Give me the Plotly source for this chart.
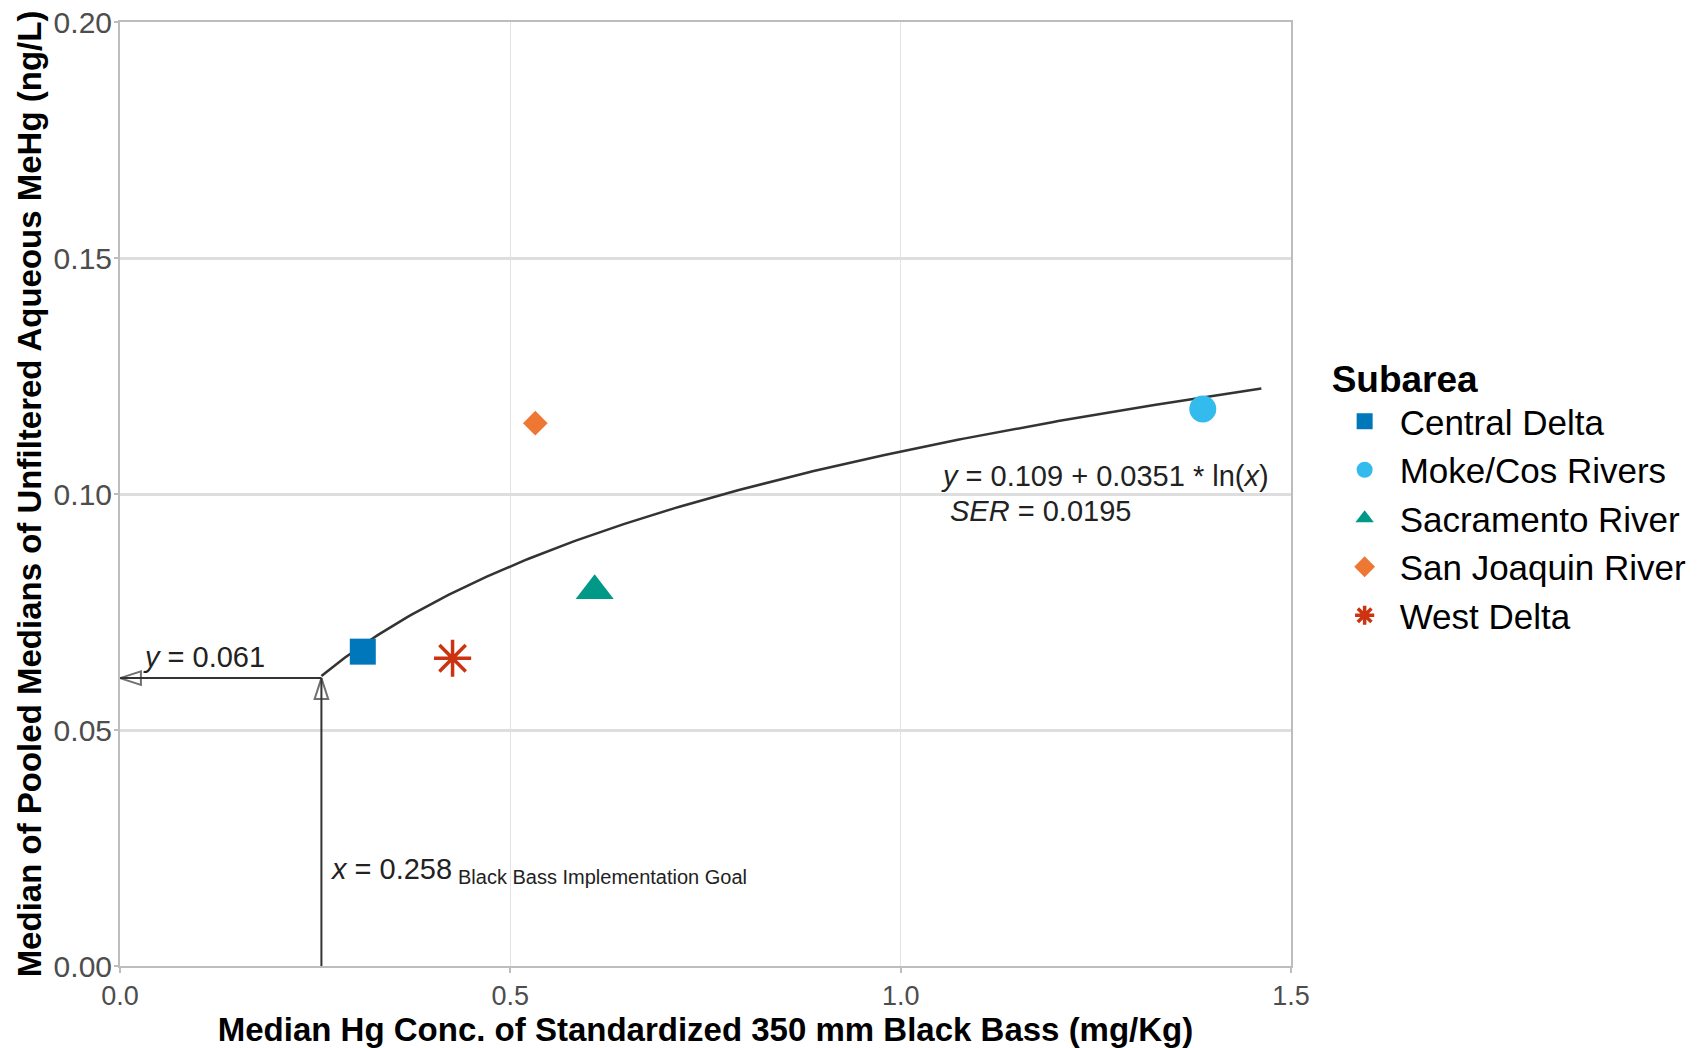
import plotly.graph_objects as go
import numpy as np

# ---- data ----
subareas = ["Central Delta", "Moke/Cos Rivers", "Sacramento River", "San Joaquin River", "West Delta"]
fish_hg = [0.311, 1.387, 0.608, 0.532, 0.426]          # mg/Kg
aqueous_mehg = [0.0666, 0.118, 0.0795, 0.115, 0.0652]  # ng/L
colors = ["#0077BB", "#33BBEE", "#009988", "#EE7733", "#CC3311"]
symbols = ["square", "circle", "triangle-up", "diamond", "asterisk-open"]
sizes = [26, 27, 33, 19, 31]

fit_intercept = 0.109
fit_slope = 0.0351
fit_x_range = [0.258, 1.462]
goal_x = 0.258
goal_y = 0.061

x_ticks = [0.0, 0.5, 1.0, 1.5]
x_ticktext = ["0.0", "0.5", "1.0", "1.5"]
y_ticks = [0.00, 0.05, 0.10, 0.15, 0.20]
y_ticktext = ["0.00", "0.05", "0.10", "0.15", "0.20"]

fig = go.Figure()

# regression curve from the printed equation
xc = np.linspace(fit_x_range[0], fit_x_range[1], 200)
yc = fit_intercept + fit_slope * np.log(xc)
fig.add_trace(go.Scatter(x=xc, y=yc, mode="lines", line=dict(color="#333333", width=2.5),
                         showlegend=False, hoverinfo="skip"))

# goal arrows: horizontal to the y axis, vertical up to the curve
arrow_marker = dict(symbol="arrow-open", size=[0, 22], angleref="previous",
                    color="#333333", line=dict(color="#333333", width=2))
fig.add_trace(go.Scatter(x=[goal_x, 0], y=[goal_y, goal_y], mode="lines+markers",
                         line=dict(color="#333333", width=2), marker=arrow_marker,
                         showlegend=False, hoverinfo="skip", cliponaxis=False))
fig.add_trace(go.Scatter(x=[goal_x, goal_x], y=[0, goal_y], mode="lines+markers",
                         line=dict(color="#333333", width=2), marker=arrow_marker,
                         showlegend=False, hoverinfo="skip", cliponaxis=False))

for name, xv, yv, c, s, sz in zip(subareas, fish_hg, aqueous_mehg, colors, symbols, sizes):
    marker = dict(color=c, symbol=s, size=sz)
    if s == "asterisk-open":
        marker["line"] = dict(color=c, width=3.5)
    fig.add_trace(go.Scatter(x=[xv], y=[yv], mode="markers", name=name, marker=marker))

text_col = "#222222"
ann_font = dict(family="Liberation Sans, Arial, sans-serif", size=29, color=text_col)
sub_font = dict(family="Liberation Sans, Arial, sans-serif", size=20, color=text_col)

annotations = [
    dict(x=0.027, y=0.0655, xref="x", yref="y", xanchor="left", yanchor="middle", showarrow=False,
         text="<i>y</i> = 0.061", font=ann_font),
    dict(x=0.266, y=0.0205, xref="x", yref="y", xanchor="left", yanchor="middle", showarrow=False,
         text="<i>x</i> = 0.258", font=ann_font),
    dict(x=0.430, y=0.0188, xref="x", yref="y", xanchor="left", yanchor="middle", showarrow=False,
         text="Black Bass Implementation Goal", font=sub_font),
    dict(x=1.0487, y=0.1039, xref="x", yref="y", xanchor="left", yanchor="middle", showarrow=False,
         text="<i>y</i> = 0.109 + 0.0351 * ln(<i>x</i>)", font=ann_font),
    dict(x=1.0606, y=0.0965, xref="x", yref="y", xanchor="left", yanchor="middle", showarrow=False,
         text="<i>SER</i> = 0.0195", font=ann_font),
]

fig.update_layout(
    width=1705, height=1048,
    margin=dict(l=120, r=414, t=22, b=82),
    plot_bgcolor="white", paper_bgcolor="white",
    font=dict(family="Liberation Sans, Arial, sans-serif", color="#000000"),
    annotations=annotations,
    legend=dict(
        title=dict(text="<b>Subarea</b>", font=dict(size=37, color="#000000")),
        font=dict(size=35, color="#000000"),
        x=1.033, xanchor="left", y=0.659, yanchor="top",
        itemwidth=60, tracegroupgap=0,
    ),
    xaxis=dict(
        range=[0, 1.5], tickvals=x_ticks, ticktext=x_ticktext,
        showgrid=True, gridcolor="#e3e3e3", gridwidth=1.3,
        showline=True, linecolor="#bdbdbd", linewidth=2, mirror=True,
        ticks="outside", ticklen=5, tickcolor="#bdbdbd", tickwidth=1.5,
        tickfont=dict(size=27, color="#4d4d4d"),
        zeroline=False, automargin=False,
        title=dict(text="<b>Median Hg Conc. of Standardized 350 mm Black Bass (mg/Kg)</b>",
                   font=dict(size=33, color="#000000"),
                   standoff=5),
    ),
    yaxis=dict(
        range=[0, 0.20], tickvals=y_ticks, ticktext=y_ticktext,
        showgrid=True, gridcolor="#dedede", gridwidth=3,
        showline=True, linecolor="#bdbdbd", linewidth=2, mirror=True,
        ticks="outside", ticklen=4, tickcolor="#bdbdbd", tickwidth=1.5,
        tickfont=dict(size=30, color="#4d4d4d"), ticklabelstandoff=-4,
        zeroline=False, automargin=False,
        title=dict(text="<b>Median of Pooled Medians of Unfiltered Aqueous MeHg (ng/L)</b>",
                   font=dict(size=33, color="#000000"),
                   standoff=2),
    ),
)

fig.write_html("out.html")
